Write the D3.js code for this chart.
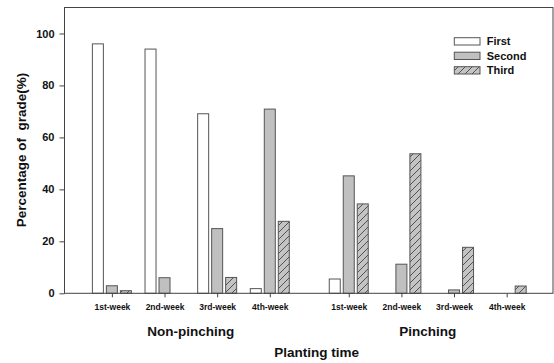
<!DOCTYPE html>
<html><head><meta charset="utf-8">
<script src="https://cdn.jsdelivr.net/npm/d3@7"></script>
<style>
body{margin:0;background:#fff;}
text{font-family:"Liberation Sans",Arial,sans-serif;font-weight:bold;fill:#111;}
</style></head>
<body><svg id="c" width="554" height="363"></svg>
<script>
const groups = ["Non-pinching", "Pinching"];
const weeks = ["1st-week", "2nd-week", "3rd-week", "4th-week"];
const seriesNames = ["First", "Second", "Third"];
const first  = [96.0, 94.0, 69.1, 1.8, 5.5, 0, 0, 0];
const second = [2.9, 6.0, 24.9, 70.9, 45.2, 11.2, 1.3, 0];
const third  = [1.0, 0, 6.1, 27.7, 34.4, 53.7, 17.7, 2.8];
const yTicks = [0, 20, 40, 60, 80, 100];

const svg = d3.select("#c");
const L = 64.5, R = 553, T = 7.5, B = 293.3;
const x = d3.scaleLinear().domain([0.1, 9.38]).range([L, R]);
const y = d3.scaleLinear().domain([0, 110]).range([B, T]);

const defs = svg.append("defs");
const P = 7;
const pat = defs.append("pattern").attr("id", "hatch").attr("patternUnits", "userSpaceOnUse")
  .attr("width", P).attr("height", P);
pat.append("rect").attr("width", P).attr("height", P).attr("fill", "#c4c4c4");
pat.append("path").attr("d", `M-1,${P+1} L${P+1},-1 M-1,1 L1,-1 M${P-1},${P+1} L${P+1},${P-1}`).attr("stroke", "#333").attr("stroke-width", 0.8);

const fills = ["#ffffff", "#c0c0c0", "url(#hatch)"];
const series = [first, second, third];

// category positions
const cats = [];
groups.forEach((g, gi) => weeks.forEach((w, wi) => cats.push({g: gi, w: wi, label: w, pos: gi * 4.5 + wi + 1})));

const bw = 11, step = 14;
series.forEach((vals, si) => {
  svg.append("g").selectAll("rect").data(vals).join("rect")
    .attr("x", (d, i) => x(cats[i].pos) + (si - 1) * step - bw / 2)
    .attr("y", d => y(d))
    .attr("width", bw)
    .attr("height", d => B - y(d))
    .attr("fill", fills[si])
    .attr("stroke", "#555").attr("stroke-width", 1)
    .attr("display", d => d > 0 ? null : "none");
});

// y axis
const ya = svg.append("g").attr("transform", `translate(${L},0)`)
  .call(d3.axisLeft(y).tickValues(yTicks).tickSize(5).tickPadding(5));
ya.select(".domain").remove();
ya.selectAll("line").attr("stroke", "#444");
ya.selectAll("text").style("font-size", "11px").style("font-family", "'Liberation Sans',Arial,sans-serif").style("font-weight", "bold").attr("fill", "#111");

// x axis
const xa = svg.append("g").attr("transform", `translate(0,${B})`)
  .call(d3.axisBottom(x).tickValues(cats.map(c => c.pos)).tickFormat((d, i) => cats[i].label).tickSize(4).tickPadding(7));
xa.select(".domain").remove();
xa.selectAll("line").attr("stroke", "#444");
xa.selectAll("text").style("font-size", "8.5px").style("font-family", "'Liberation Sans',Arial,sans-serif").style("font-weight", "bold").attr("fill", "#111");

// frame
svg.append("rect").attr("x", L).attr("y", T).attr("width", R - L).attr("height", B - T)
  .attr("fill", "none").attr("stroke", "#444").attr("stroke-width", 1);

// group labels
groups.forEach((g, gi) => {
  const c = (x(gi * 4.5 + 1) + x(gi * 4.5 + 4)) / 2;
  svg.append("text").attr("x", c).attr("y", 335.5).attr("text-anchor", "middle")
    .style("font-size", "13.5px").text(g);
});
svg.append("text").attr("x", 316.7).attr("y", 357).attr("text-anchor", "middle")
  .style("font-size", "13.5px").text("Planting time");
svg.append("text").attr("transform", "translate(25.5,150) rotate(-90)").attr("text-anchor", "middle")
  .style("font-size", "13.5px").style("white-space", "pre").text("Percentage of  grade(%)");

// legend
const lg = svg.append("g");
seriesNames.forEach((s, i) => {
  const yy = 37.7 + i * 14.5;
  lg.append("rect").attr("x", 454.3).attr("y", yy).attr("width", 25.7).attr("height", 7.3)
    .attr("fill", fills[i]).attr("stroke", "#555").attr("stroke-width", 1);
  lg.append("text").attr("x", 486.7).attr("y", yy + 7.6).style("font-size", "11px").text(s);
});
</script></body></html>
